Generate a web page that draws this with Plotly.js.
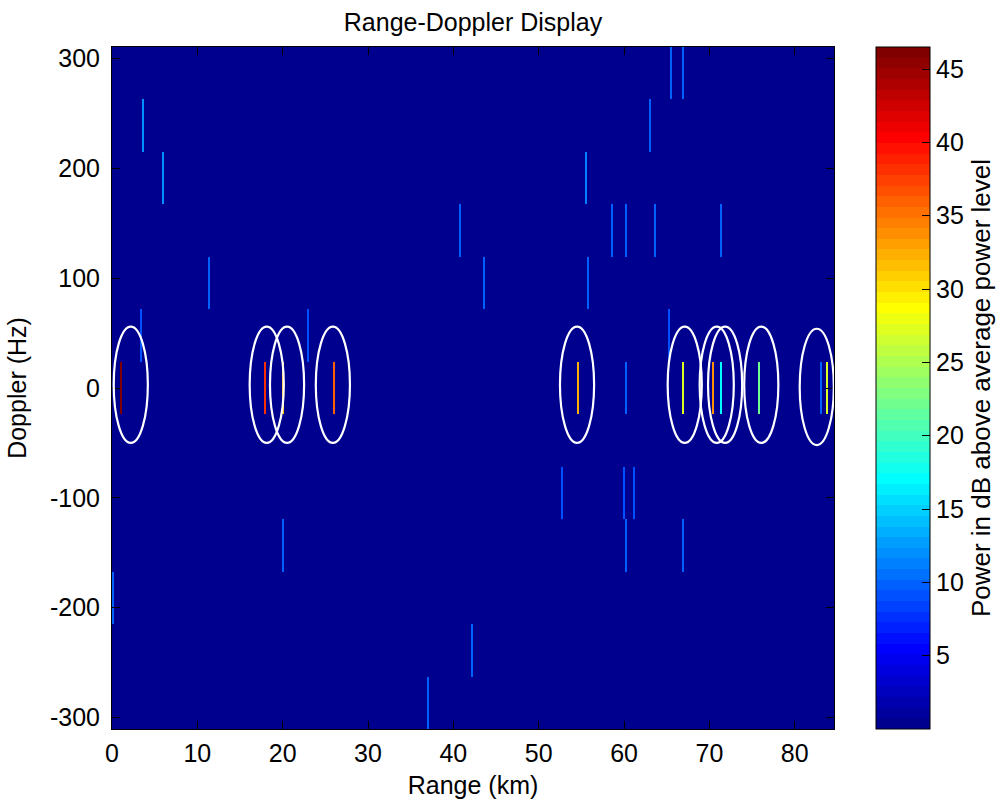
<!DOCTYPE html>
<html>
<head>
<meta charset="utf-8">
<script src="https://cdn.plot.ly/plotly-3.0.1.min.js"></script>
<style>html,body{margin:0;padding:0;background:#fff;}#chart{width:1005px;height:803px;}</style>
</head>
<body>
<div id="chart"></div>
<script>
// ---- data ----
const dopplerBinsHz = [-286.8, -239, -191.2, -143.4, -95.6, -47.8, 0, 47.8, 95.6, 143.4, 191.2, 239, 286.8];
const rangeMaxKm = 84.6;
const rangeBinKm = 0.235;

const targetRangeKm = [1.05, 17.89, 20.04, 26.05, 54.53, 60.35, 66.8, 70.47, 71.41, 75.71, 83.09, 83.68,
  65.4, 66.8, 3.55, 63.05, 5.9, 55.51, 40.78, 58.6, 60.35, 63.67, 71.25, 11.29, 43.51, 55.7,
  3.36, 22.97, 65.2, 52.8, 59.97, 61.14, 20.0, 60.35, 66.8, 0.05, 42.15, 36.9];
const targetDopplerHz = [0, 0, 0, 0, 0, 0, 0, 0, 0, 0, 0, 0,
  286.8, 286.8, 239, 239, 191.2, 191.2, 143.4, 143.4, 143.4, 143.4, 143.4, 95.6, 95.6, 95.6,
  47.8, 47.8, 47.8, -95.6, -95.6, -95.6, -143.4, -143.4, -143.4, -191.2, -239, -286.8];
const targetPowerDb = [46.5, 38, 32, 36, 32, 10, 27, 34, 17, 22, 10, 27,
  10, 10, 12, 10, 12, 11, 10, 10, 10, 10, 10, 10, 10, 10,
  9, 9, 9, 9, 9, 9, 9.5, 9.5, 9.5, 10, 10, 10];
const backgroundDb = 0.3;

const ellipseRangeKm = [2.2, 18.13, 20.51, 25.88, 54.49, 67.11, 70.86, 71.84, 76.08, 82.58];
const ellipseDopplerHz = [3, 3, 3, 3, 3, 3, 3, 3, 3, 1];
const ellipseHalfRangeKm = 2.0;
const ellipseHalfDopplerHz = 53;

const xTickVals = [0, 10, 20, 30, 40, 50, 60, 70, 80];
const yTickVals = [-300, -200, -100, 0, 100, 200, 300];
const yTickText = ['-300', '-200', '-100', '0', '100', '200', '300'];
const cbTickVals = [5, 10, 15, 20, 25, 30, 35, 40, 45];

// ---- MATLAB jet(64) ----
function jet(m) {
  const n = Math.ceil(m / 4);
  const u = [];
  for (let i = 1; i <= n; i++) u.push(i / n);
  for (let i = 0; i < n - 1; i++) u.push(1);
  for (let i = n; i >= 1; i--) u.push(i / n);
  const g0 = Math.ceil(n / 2) - (m % 4 === 1 ? 1 : 0);
  const J = Array.from({length: m}, () => [0, 0, 0]);
  for (let k = 0; k < u.length; k++) {
    const g = g0 + k + 1, r = g + n, b = g - n;
    if (r >= 1 && r <= m) J[r - 1][0] = u[k];
    if (g >= 1 && g <= m) J[g - 1][1] = u[k];
    if (b >= 1 && b <= m) J[b - 1][2] = u[k];
  }
  return J;
}
const J = jet(64);
const colorscale = [];
J.forEach((c, i) => {
  const col = 'rgb(' + c.map(v => Math.round(v * 255)).join(',') + ')';
  colorscale.push([i / 64, col]);
  colorscale.push([(i + 1) / 64, col]);
});

// ---- build grid ----
const nCols = Math.round(rangeMaxKm / rangeBinKm);
const z = dopplerBinsHz.map(() => new Array(nCols).fill(backgroundDb));
for (let t = 0; t < targetRangeKm.length; t++) {
  let row = 0, best = Infinity;
  dopplerBinsHz.forEach((d, i) => { const e = Math.abs(d - targetDopplerHz[t]); if (e < best) { best = e; row = i; } });
  const col = Math.min(nCols - 1, Math.floor(targetRangeKm[t] / rangeBinKm));
  z[row][col] = Math.max(z[row][col], targetPowerDb[t]);
}

const font = 'Liberation Sans, Arial, Helvetica, sans-serif';
const trace = {
  type: 'heatmap',
  z: z,
  x0: rangeBinKm / 2,
  dx: rangeBinKm,
  y: dopplerBinsHz,
  zmin: 0,
  zmax: 46.5,
  colorscale: colorscale,
  hoverinfo: 'skip',
  colorbar: {
    x: (876 - 112) / 722,
    xanchor: 'left',
    xref: 'paper',
    y: 0.5,
    yanchor: 'middle',
    len: 1,
    lenmode: 'fraction',
    xpad: 0,
    ypad: 0,
    thickness: 54,
    thicknessmode: 'pixels',
    outlinecolor: '#000',
    outlinewidth: 1,
    ticks: 'inside',
    ticklen: 8,
    tickcolor: '#000',
    tickvals: cbTickVals,
    ticklabelstandoff: 11,
    tickfont: {family: font, size: 25, color: '#000'},
    title: {text: 'Power in dB above average power level', side: 'right', font: {family: font, size: 26, color: '#000'}}
  }
};

const shapes = ellipseRangeKm.map((r, i) => ({
  type: 'circle', xref: 'x', yref: 'y', layer: 'above',
  x0: r - ellipseHalfRangeKm, x1: r + ellipseHalfRangeKm,
  y0: ellipseDopplerHz[i] - ellipseHalfDopplerHz, y1: ellipseDopplerHz[i] + ellipseHalfDopplerHz,
  line: {color: '#ffffff', width: 2.2}
}));

const axisCommon = {
  showgrid: false, zeroline: false, showline: true, linecolor: '#000', linewidth: 1,
  mirror: 'ticks', ticks: 'inside', ticklen: 8, tickcolor: '#000',
  tickfont: {family: font, size: 25, color: '#000'}
};

const layout = {
  width: 1005, height: 803,
  margin: {l: 112, r: 171, t: 47, b: 74, autoexpand: false},
  paper_bgcolor: '#fff', plot_bgcolor: '#fff',
  font: {family: font, color: '#000'},
  title: {text: 'Range-Doppler Display', x: 0.5, xref: 'paper', xanchor: 'center', y: 1 - 22 / 803, yref: 'container', yanchor: 'middle', font: {family: font, size: 25, color: '#000'}},
  xaxis: Object.assign({}, axisCommon, {range: [0, rangeMaxKm], tickvals: xTickVals, ticklabelstandoff: 2, title: {text: 'Range (km)', font: {family: font, size: 25, color: '#000'}, standoff: 10}}),
  yaxis: Object.assign({}, axisCommon, {range: [-310.7, 310.7], tickvals: yTickVals, ticktext: yTickText, ticklabelstandoff: 6, title: {text: 'Doppler (Hz)', font: {family: font, size: 25, color: '#000'}, standoff: 16}}),
  shapes: shapes
};

Plotly.newPlot('chart', [trace], layout, {displayModeBar: false, staticPlot: true});
</script>
</body>
</html>
